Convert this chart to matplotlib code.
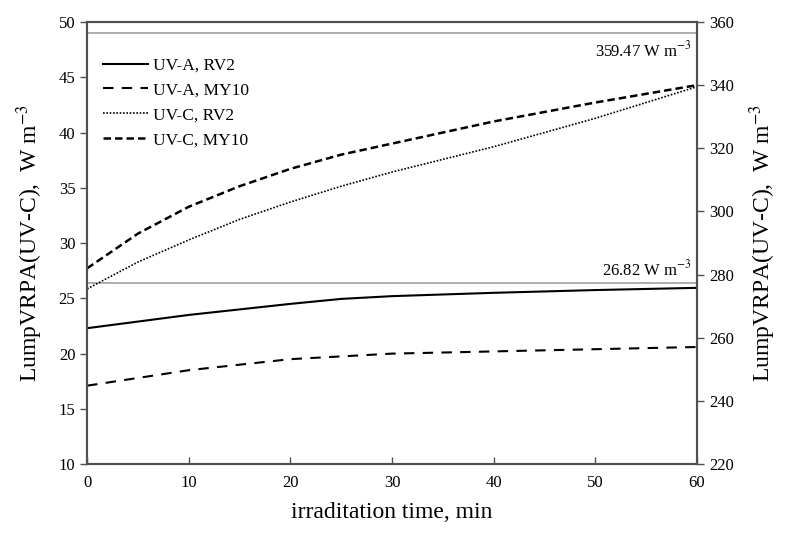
import matplotlib.pyplot as plt

plt.rcParams['font.family'] = ['Liberation Serif', 'DejaVu Serif']
plt.rcParams['mathtext.fontset'] = 'stix'

# irradiation time, min
t_uva = [0, 5, 10, 15, 20, 25, 30, 40, 50, 60]
uva_rv2 = [22.3, 22.9, 23.5, 24.0, 24.5, 24.95, 25.2, 25.5, 25.75, 25.95]
t_uva_my = [0, 5, 10, 15, 20, 30, 40, 50, 60]
uva_my10 = [17.1, 17.8, 18.5, 19.0, 19.5, 20.0, 20.2, 20.4, 20.6]

# UV-C series on the right axis
t_uvc = [0, 5, 10, 15, 20, 25, 30, 40, 50, 60]
uvc_rv2 = [275.5, 284, 291, 297.5, 303, 308, 312.5, 320.5, 329.5, 339.5]
uvc_my10 = [282, 293, 301.5, 308, 313.5, 318, 321.5, 328.5, 334.5, 340]

ref_uvc = 49.0    # grey line, left-axis units
ref_uva = 26.4

fig = plt.figure(figsize=(7.92, 5.36), dpi=100)
ax = fig.add_axes([0.11, 0.134, 0.77, 0.825])
ax2 = ax.twinx()

ax.axhline(ref_uvc, color='#a0a0a0', lw=1.2, zorder=1)
ax.axhline(ref_uva, color='#a0a0a0', lw=1.2, zorder=1)

l1, = ax.plot(t_uva, uva_rv2, color='black', lw=1.5, label='UV-A, RV2')
l2, = ax.plot(t_uva_my, uva_my10, color='black', lw=1.5, ls=(0, (5, 4)), label='UV-A, MY10')
l3, = ax2.plot(t_uvc, uvc_rv2, color='black', lw=1.2, ls=(0, (1, 1)), label='UV-C, RV2')
l4, = ax2.plot(t_uvc, uvc_my10, color='black', lw=1.8, ls=(0, (3, 1.6)), label='UV-C, MY10')

ax.text(59.5, 47.4, '359.47 W m$^{-3}$', ha='right', va='center', fontsize=12)
ax.text(59.5, 27.6, '26.82 W m$^{-3}$', ha='right', va='center', fontsize=12)

ax.set_xlim(0, 60)
ax.set_ylim(10, 50)
ax2.set_ylim(220, 360)
ax.set_xticks(range(0, 61, 10))
ax.set_yticks(range(10, 51, 5))
ax2.set_yticks(range(220, 361, 20))

for a in (ax, ax2):
    for s in a.spines.values():
        s.set_color('#505050')
        s.set_linewidth(1.5)
ax.tick_params(axis='x', direction='in', length=5, width=1, color='#505050', labelsize=12, pad=8)
ax.tick_params(axis='y', direction='out', length=5, width=1, color='#505050', labelsize=12)
ax2.tick_params(axis='y', direction='out', length=5, width=1, color='#505050', labelsize=12)

ax.set_xlabel('irraditation time, min', fontsize=17, labelpad=8)
ax.set_ylabel('LumpVRPA(UV-C),  W m$^{-3}$', fontsize=17, labelpad=10)
ax2.set_ylabel('LumpVRPA(UV-C),  W m$^{-3}$', fontsize=17, rotation=90, labelpad=10)

ax.legend(handles=[l1, l2, l3, l4], loc='upper left', bbox_to_anchor=(0.0, 0.955),
          frameon=False, fontsize=12.5, handlelength=2.6, handletextpad=0.3,
          labelspacing=0.5)

fig.savefig('out.png', dpi=100)
